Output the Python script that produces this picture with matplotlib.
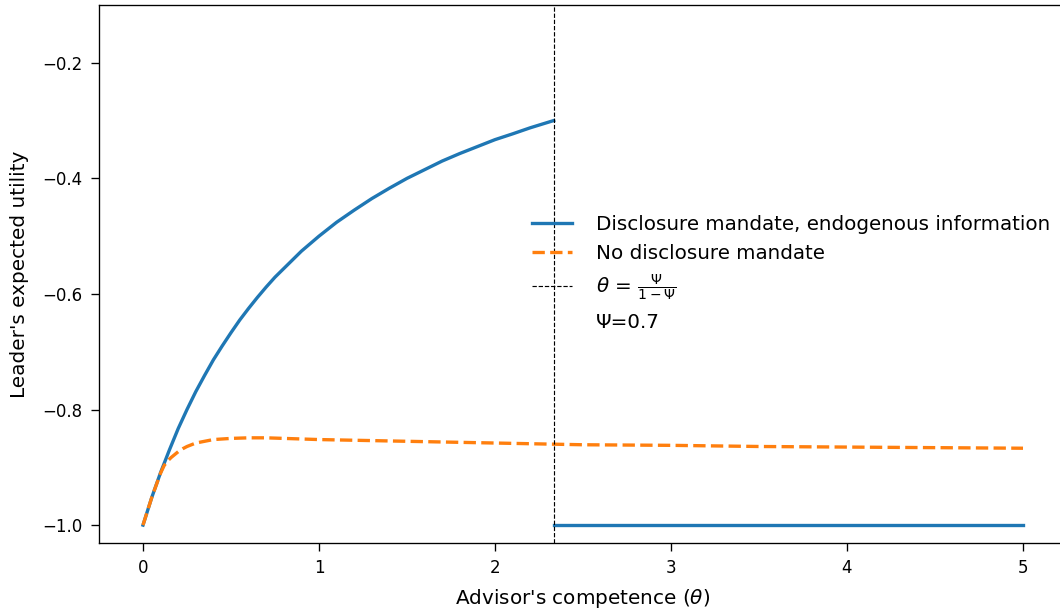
import matplotlib
matplotlib.use("Agg")
import matplotlib.pyplot as plt

psi = 0.7
umbral = 2.3333

# curva con mandato de divulgacion (hasta el umbral)
theta_azul = [0.0, 0.05, 0.1, 0.15, 0.2, 0.25, 0.3, 0.35, 0.4, 0.45, 0.5, 0.55, 0.6, 0.65, 0.7,
              0.75, 0.8, 0.85, 0.9, 0.95, 1.0, 1.1, 1.2, 1.3, 1.4, 1.5, 1.6, 1.7, 1.8, 1.9,
              2.0, 2.1, 2.2, 2.3333]
u_azul = [-1.0, -0.952, -0.909, -0.870, -0.833, -0.800, -0.769, -0.741, -0.714, -0.690,
          -0.667, -0.645, -0.625, -0.606, -0.588, -0.571, -0.556, -0.541, -0.526, -0.513,
          -0.500, -0.476, -0.455, -0.435, -0.417, -0.400, -0.385, -0.370, -0.357, -0.345,
          -0.333, -0.323, -0.3125, -0.300]

# tramo plano despues del umbral
theta_azul2 = [2.3333, 5.0]
u_azul2 = [-1.0, -1.0]

# sin mandato
theta_nar = [0.0, 0.05, 0.1, 0.12, 0.14, 0.16, 0.18, 0.2, 0.225, 0.25, 0.275, 0.3, 0.35, 0.4,
             0.45, 0.5, 0.6, 0.7, 0.8, 1.0, 1.5, 2.0, 2.5, 3.0, 3.5, 4.0, 4.5, 5.0]
u_nar = [-1.0, -0.952, -0.910, -0.897, -0.889, -0.883, -0.878, -0.873, -0.868, -0.864,
         -0.861, -0.858, -0.855, -0.852, -0.851, -0.850, -0.849, -0.849, -0.850, -0.852,
         -0.855, -0.858, -0.861, -0.862, -0.864, -0.865, -0.866, -0.867]

fig = plt.figure(figsize=(10.6 / 1.2, 6.12 / 1.2), dpi=120)
ax = fig.add_axes([99 / 1060, 69 / 612, (1067 - 99) / 1060, (543 - 5) / 612])

ax.plot(theta_azul, u_azul, color='tab:blue', linewidth=2,
        label='Disclosure mandate, endogenous information')
ax.plot(theta_azul2, u_azul2, color='tab:blue', linewidth=2)
ax.plot(theta_nar, u_nar, color='tab:orange', linestyle='--', linewidth=2,
        label='No disclosure mandate')
ax.axvline(umbral, color='black', linestyle='--', linewidth=0.7,
           label=r'$\theta$ = $\frac{\Psi}{1-\Psi}$')
ax.plot([], [], ' ', label='Ψ=0.7')

ax.set_xlim(-0.25, 5.25)
ax.set_ylim(-1.031, -0.1)
ax.set_yticks([-1.0, -0.8, -0.6, -0.4, -0.2])
ax.spines['right'].set_visible(False)

ax.set_xlabel(r"Advisor's competence ($\theta$)", fontsize=12, labelpad=6)
ax.set_ylabel("Leader's expected utility", fontsize=12, labelpad=8)
ax.tick_params(labelsize=10, length=4.8, pad=5)

ax.legend(loc='upper left', bbox_to_anchor=(514 / 1060, 1 - 197 / 612),
          bbox_transform=fig.transFigure, frameon=False, fontsize=11.9,
          handletextpad=1.25)

fig.savefig('out.png', dpi=120)
